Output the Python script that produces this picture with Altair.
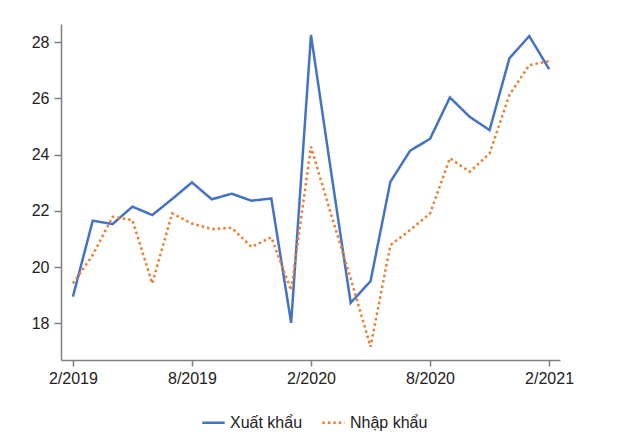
import altair as alt
import pandas as pd

months = ["2/2019", "3/2019", "4/2019", "5/2019", "6/2019", "7/2019", "8/2019", "9/2019",
          "10/2019", "11/2019", "12/2019", "1/2020", "2/2020", "3/2020", "4/2020", "5/2020",
          "6/2020", "7/2020", "8/2020", "9/2020", "10/2020", "11/2020", "12/2020", "1/2021", "2/2021"]
xuat_khau = [18.95, 21.65, 21.53, 22.15, 21.85, 22.42, 23.01, 22.41, 22.61, 22.36, 22.44, 18.02,
             28.25, 23.45, 18.73, 19.5, 23.03, 24.14, 24.56, 26.03, 25.34, 24.87, 27.42, 28.21, 27.04]
nhap_khau = [19.42, 20.43, 21.79, 21.67, 19.42, 21.91, 21.55, 21.35, 21.4, 20.72, 21.06, 19.18,
             24.28, 21.9, 19.6, 17.17, 20.78, 21.32, 21.91, 23.87, 23.39, 24.04, 26.12, 27.18, 27.32]
series_names = ["Xuất khẩu", "Nhập khẩu"]
tick_labels = ["2/2019", "8/2019", "2/2020", "8/2020", "2/2021"]

rows = []
for i, m in enumerate(months):
    rows.append({"idx": i, "month": m, "series": series_names[0], "value": xuat_khau[i]})
    rows.append({"idx": i, "month": m, "series": series_names[1], "value": nhap_khau[i]})
df = pd.DataFrame(rows)

label_expr = "[" + ",".join("'%s'" % t for t in tick_labels) + "][round(datum.value/6)]"

chart = alt.Chart(df).mark_line(strokeWidth=2.5).encode(
    x=alt.X("idx:Q", scale=alt.Scale(domain=[-0.6, 24.55], nice=False, zero=False),
            axis=alt.Axis(values=[0, 6, 12, 18, 24], labelExpr=label_expr, title=None,
                          grid=False, tickSize=6, labelPadding=4)),
    y=alt.Y("value:Q", scale=alt.Scale(domain=[16.7, 28.64], nice=False, zero=False),
            axis=alt.Axis(values=[18, 20, 22, 24, 26, 28], title=None, grid=False,
                          tickSize=7, labelPadding=5)),
    color=alt.Color("series:N",
                    scale=alt.Scale(domain=series_names, range=["#4472C4", "#ED7D31"]),
                    legend=alt.Legend(title=None, orient="none", direction="horizontal",
                                      legendX=140, legendY=386, symbolType="stroke",
                                      symbolSize=500, symbolStrokeWidth=2.5,
                                      labelFontSize=16, labelFont="Liberation Sans",
                                      labelColor="#222222", columnPadding=14)),
    strokeDash=alt.StrokeDash("series:N",
                              scale=alt.Scale(domain=series_names, range=[[1, 0], [2.5, 3]]),
                              legend=None),
    detail="series:N",
).properties(
    width=499, height=336,
    padding={"left": 53, "top": 16, "right": 50, "bottom": 80},
    autosize=alt.AutoSizeParams(type="none"),
    background="white",
).configure_view(stroke=None).configure_axis(
    labelFont="Liberation Sans", labelFontSize=16, labelColor="#222222",
    domainColor="#7f7f7f", domainWidth=1.5, tickColor="#7f7f7f", tickWidth=1.5,
)

chart.save("out.html", embed_options={"renderer": "svg", "actions": False})
